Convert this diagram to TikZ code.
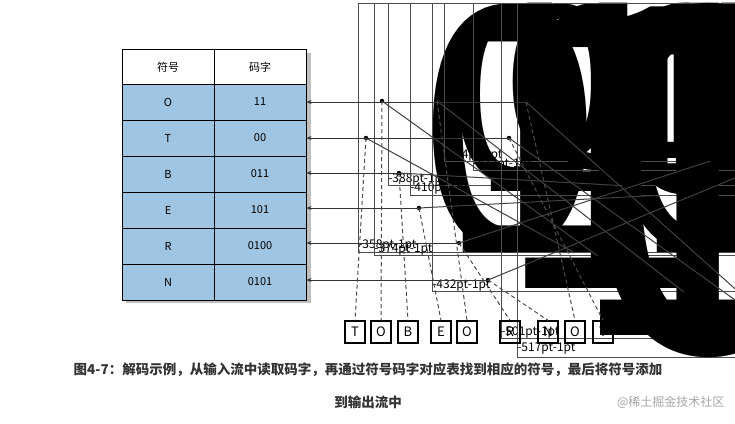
\documentclass[tikz,border=0pt]{standalone}
\usepackage{fontspec}
\setmainfont{Noto Sans CJK SC}
\usetikzlibrary{arrows.meta,shadows}
\definecolor{cellblue}{RGB}{160,197,226}
\tikzset{
 cell/.style={draw=black,line width=1pt,fill=cellblue,minimum width=92pt,minimum height=36pt,inner sep=0pt,font=\fontsize{11}{12}\selectfont},
 hcell/.style={cell,fill=white},
 bit/.style={draw=black!70,line width=0.6pt,minimum height=19pt,inner sep=0pt,font=\fontsize{12}{12}\selectfont},
 vline/.style={draw=black!75,line width=1pt},
 arr/.style={draw=black!80,line width=1pt,-{Stealth[length=5pt,width=4pt]}},
 dot/.style={circle,fill=black,inner sep=0pt,minimum size=4.5pt},
 dashln/.style={draw=black!70,line width=1pt,dash pattern=on 4pt off 3pt},
 outb/.style={draw=black,line width=1.3pt,minimum width=20pt,minimum height=22pt,inner sep=0pt,font=\fontsize{13}{13}\selectfont},
}
\begin{document}
\begin{tikzpicture}[x=1pt,y=-1pt]
\useasboundingbox[fill=white] (0,0) rectangle (735,423);
% table
\begin{scope}
\fill[black!25] (126,53) rectangle (311,303);
\node[hcell] (h1) at (168,67) {符号};
\node[hcell] (h2) at (260,67) {码字};
\foreach \s/\c/\y/\n in {O/11/102/r1,T/00/138/r2,B/011/174/r3,E/101/210/r4,R/0100/246/r5,N/0101/282/r6}{
 \node[cell] (\n a) at (168,\y) {\s};
 \node[cell] (\n b) at (260,\y) {\c};
}
\end{scope}
% bit string
\foreach \a/\b/\t/\n in {358/374/00/s1,374/388/11/s2,388/410/011/s3,410/432/101/s4,432/444/11/s5,444/473/0100/s6,473/501/0101/s7,501/517/11/s8,517/532/00/s9}{
 \node[bit,minimum width={\b-\a},anchor=north west] (\n) at (\a,3) {\resizebox{\b pt-\a pt-1pt}{!}{\t}};
}
% dots
\node[dot] (d1) at (366,138) {};
\node[dot] (d2) at (382,101) {};
\node[dot] (d3) at (399,173) {};
\node[dot] (d4) at (419,208) {};
\node[dot] (d5) at (437,101) {};
\node[dot] (d6) at (459,243) {};
\node[dot] (d7) at (488,280) {};
\node[dot] (d8) at (509,138) {};
\node[dot] (d9) at (526,102) {};
\foreach \i in {1,...,9}{\draw[vline] (s\i.south) -- (d\i.center);}
% arrows
\draw[arr] (d9.center) -- (r1b.east|-d9);
\draw[arr] (d8.center) -- (r2b.east|-d8);
\draw[arr] (d3.center) -- (r3b.east|-d3);
\draw[arr] (d4.center) -- (r4b.east|-d4);
\draw[arr] (d6.center) -- (r5b.east|-d6);
\draw[arr] (d7.center) -- (r6b.east|-d7);
% output
\foreach \x/\t/\n in {355/T/o1,381/O/o2,408/B/o3,441/E/o4,467/O/o5,510/R/o6,548/N/o7,575/O/o8,603/T/o9}{
 \node[outb] (\n) at (\x,332) {\t};
}
\draw[dashln] (d1.center) -- (o1.north);
\draw[dashln] (d2.center) -- (o2.north);
\draw[dashln] (d3.center) -- (o3.north);
\draw[dashln] (d4.center) -- (o4.north);
\draw[dashln] (d5.center) -- (o5.north);
\draw[dashln] (d6.center) -- (o6.north);
\draw[dashln] (d7.center) -- (o7.north);
\draw[dashln] (d9.center) -- (o8.north);
\draw[dashln] (d8.center) -- (o9.north);
% caption
\node[font=\fontsize{13.5}{16}\selectfont\bfseries,text=black!80] (cap1) at (368,370) {图4-7：解码示例，从输入流中读取码字，再通过符号码字对应表找到相应的符号，最后将符号添加};
\node[font=\fontsize{13.5}{16}\selectfont\bfseries,text=black!80] (cap2) at (368,402) {到输出流中};
\node[font=\fontsize{12}{14}\selectfont,text=black!35,anchor=east] (wm) at (728,402) {@稀土掘金技术社区};
\end{tikzpicture}
\end{document}
